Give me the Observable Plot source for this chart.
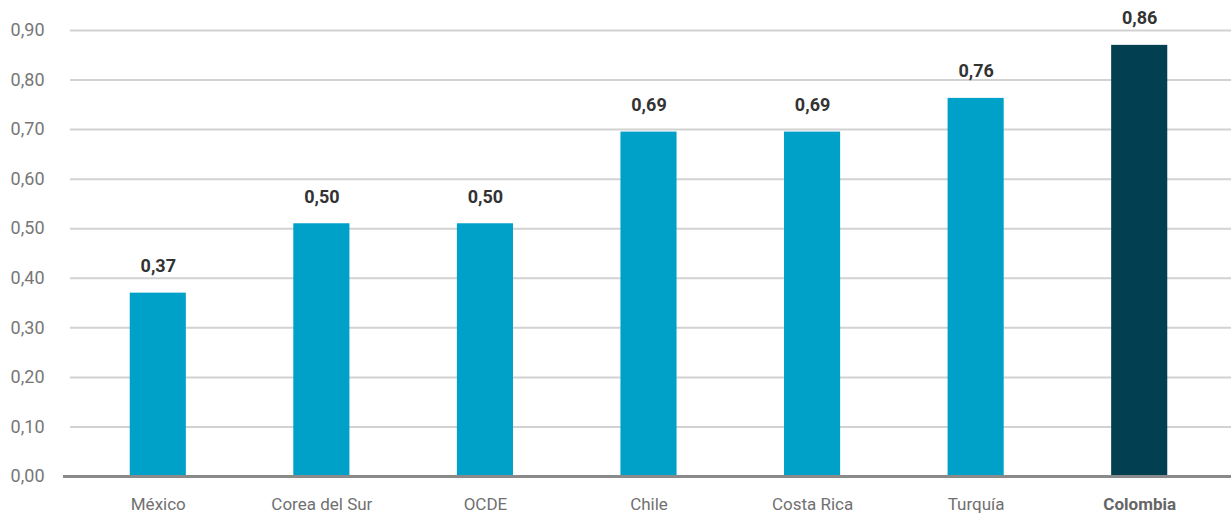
<!DOCTYPE html>
<html><head><meta charset="utf-8">
<script src="https://cdn.jsdelivr.net/npm/d3@7"></script>
<script src="https://cdn.jsdelivr.net/npm/@observablehq/plot@0.6"></script>
<style>body{margin:0;background:#fff;} svg{display:block;}</style>
</head><body><div id="chart"></div>
<script>
const countries = ["México","Corea del Sur","OCDE","Chile","Costa Rica","Turquía","Colombia"];
const values = [0.37, 0.51, 0.51, 0.695, 0.695, 0.763, 0.87];
const labels = ["0,37","0,50","0,50","0,69","0,69","0,76","0,86"];
const yTicks = [0,0.1,0.2,0.3,0.4,0.5,0.6,0.7,0.8,0.9];
const highlight = "Colombia";

const data = countries.map((c,i)=>({country:c, value:values[i], label:labels[i]}));
const fmt = d => d.toFixed(2).replace(".", ",");

const plot = Plot.plot({
  width: 1231, height: 514,
  marginTop: 30, marginBottom: 38, marginLeft: 76, marginRight: 10,
  style: {fontFamily: "Roboto, sans-serif", background: "#fff"},
  x: {domain: countries, paddingInner: 0.657, paddingOuter: 0.3285, round: false, label: null, axis: null},
  y: {domain: [0, 0.9], label: null, axis: null},
  marks: [
    Plot.ruleY(yTicks.filter(d=>d>0), {stroke: "#d2d2d2", strokeWidth: 2, insetLeft: -6, insetRight: -10}),
    Plot.barY(data, {x: "country", y: "value", fill: d => d.country === highlight ? "#023f50" : "#00a1c9"}),
    Plot.ruleY([0], {stroke: "#8a8a8a", strokeWidth: 3, insetLeft: -13, insetRight: -10}),
    Plot.text(yTicks, {y: d => d, text: fmt, frameAnchor: "left", textAnchor: "end", dx: -32, fill: "#777", fontSize: 18}),
    Plot.text(data, {x: "country", y: "value", text: "label", dy: -27, fill: "#333", fontSize: 18, fontWeight: "bold"}),
    Plot.text(data.filter(d => d.country !== highlight), {x: "country", y: 0, text: "country", dy: 28, fill: "#707070", fontSize: 17}),
    Plot.text(data.filter(d => d.country === highlight), {x: "country", y: 0, text: "country", dy: 28, fill: "#666", fontSize: 17, fontWeight: "bold"})
  ]
});
document.getElementById("chart").appendChild(plot);
</script></body></html>
